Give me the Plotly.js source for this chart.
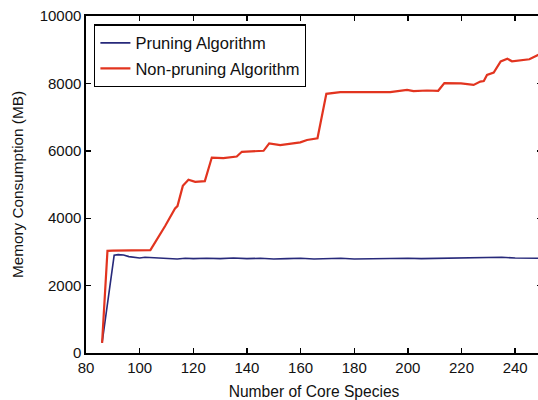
<!DOCTYPE html>
<html>
<head>
<meta charset="utf-8">
<script src="https://cdn.plot.ly/plotly-3.0.1.min.js"></script>
<style>
html,body{margin:0;padding:0;overflow:hidden;background:#fff;}
#chart{width:546px;height:400px;}
</style>
</head>
<body>
<div id="chart"></div>
<script>
// Data
var seriesNames = ["Pruning Algorithm", "Non-pruning Algorithm"];

var pruningX = [86, 90.5, 92, 94, 96, 98, 100, 102, 105, 108, 111, 114, 117, 120, 125, 130, 135, 140, 145, 150, 155, 160, 165, 170, 175, 180, 185, 190, 195, 200, 205, 210, 215, 220, 225, 230, 235, 240, 245, 250];
var pruningY = [300, 2900, 2920, 2910, 2860, 2830, 2820, 2840, 2830, 2810, 2820, 2790, 2810, 2800, 2810, 2800, 2820, 2800, 2810, 2790, 2800, 2810, 2790, 2800, 2810, 2790, 2800, 2810, 2800, 2810, 2800, 2810, 2800, 2810, 2820, 2850, 2840, 2820, 2810, 2810];

var nonPruningX = [86, 88, 90, 95, 100, 104, 109.5, 113.2, 114.1, 116.1, 118.2, 120.7, 124.3, 126.9, 131.2, 136.2, 138.1, 146.2, 148.3, 152.4, 159.9, 162.4, 166.3, 169.6, 174.8, 185, 193.4, 199.7, 202.1, 207.1, 211.3, 213.6, 219.8, 224.5, 227, 228.3, 229.5, 232, 234.6, 237.1, 238.8, 245.3, 248.5, 250];
var nonPruningY = [300, 3030, 3040, 3045, 3050, 3055, 3770, 4290, 4360, 4960, 5140, 5080, 5100, 5800, 5780, 5830, 5970, 6000, 6220, 6170, 6250, 6320, 6370, 7690, 7740, 7740, 7740, 7810, 7770, 7790, 7780, 8010, 8000, 7955, 8054, 8070, 8250, 8320, 8650, 8730, 8655, 8715, 8850, 8900];

var xTicks = [80, 100, 120, 140, 160, 180, 200, 220, 240];
var yTicks = [0, 2000, 4000, 6000, 8000, 10000];

var xTitle = "Number of Core Species";
var yTitle = "Memory Consumption (MB)";

var FONT = "Liberation Sans, Arial, Helvetica, sans-serif";

var traces = [
  {x: pruningX, y: pruningY, name: seriesNames[0], mode: "lines", legendgroup: "a",
   line: {color: "#27297a", width: 1.6}},
  {x: nonPruningX, y: nonPruningY, name: seriesNames[1], mode: "lines", legendgroup: "b",
   line: {color: "#e2341f", width: 2.2}}
];

var axisCommon = {
  showgrid: false, zeroline: false,
  showline: true, linecolor: "#000", linewidth: 1.6, mirror: "ticks",
  ticks: "inside", ticklen: 5, tickwidth: 1.4, tickcolor: "#000",
  tickfont: {family: FONT, size: 15, color: "#111"}
};

var layout = {
  width: 546, height: 400,
  margin: {l: 86, r: 4, t: 16, b: 47},
  paper_bgcolor: "#fff", plot_bgcolor: "#fff",
  showlegend: true,
  legend: {
    x: 0.018, y: 0.975, xanchor: "left", yanchor: "top",
    bgcolor: "#fff", bordercolor: "#000", borderwidth: 1.2,
    font: {family: FONT, size: 16.5, color: "#111"},
    traceorder: "grouped", tracegroupgap: 1
  },
  xaxis: Object.assign({}, axisCommon, {
    range: [80, 250], tickvals: xTicks, ticktext: xTicks.map(String),
    title: {text: xTitle, font: {family: FONT, size: 15.6, color: "#111"}, standoff: 13}
  }),
  yaxis: Object.assign({}, axisCommon, {
    range: [0, 10000], tickvals: yTicks, ticktext: yTicks.map(String),
    title: {text: yTitle, font: {family: FONT, size: 15.3, color: "#111"}, standoff: 12}
  })
};

Plotly.newPlot("chart", traces, layout, {displayModeBar: false, staticPlot: true});
</script>
</body>
</html>
